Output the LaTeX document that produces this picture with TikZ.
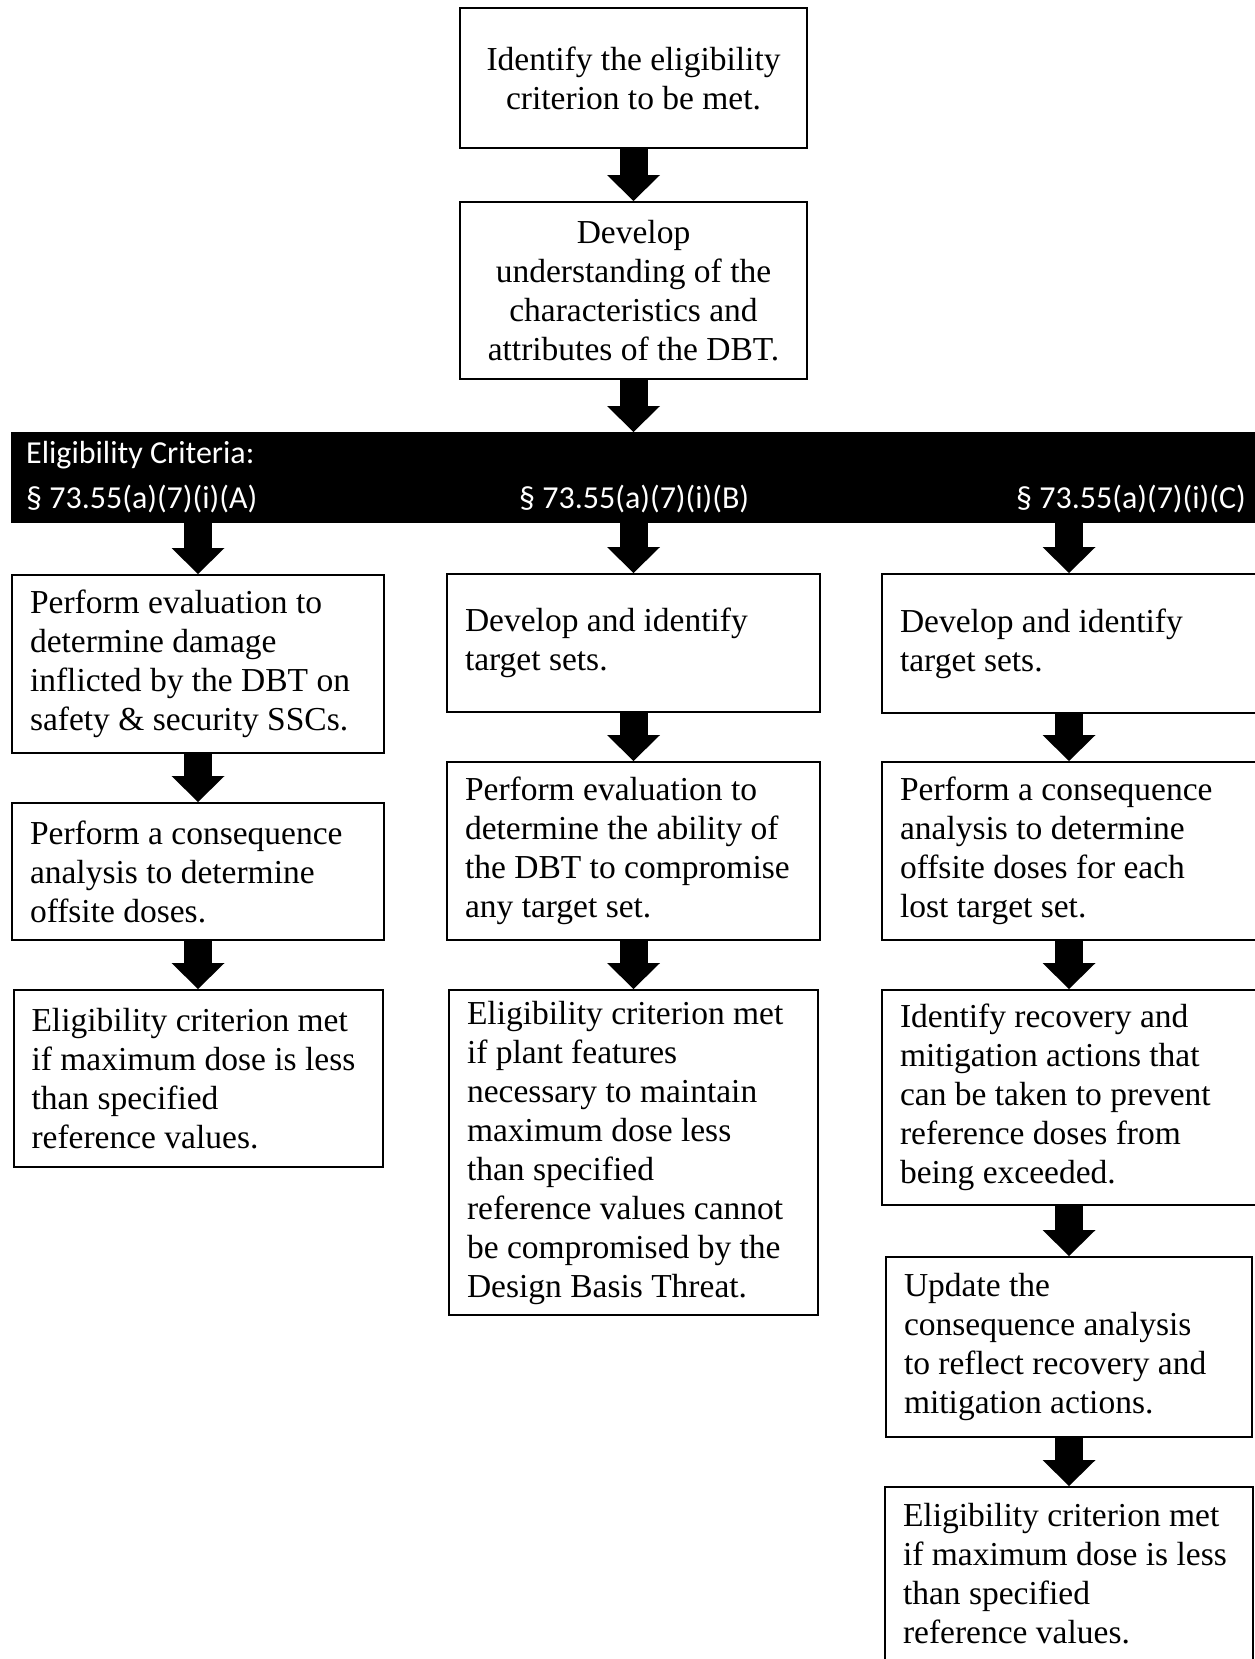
\documentclass[tikz,border=0pt]{standalone}
\usepackage{fontspec}
\setmainfont{Liberation Serif}
\newfontfamily\barfont{Carlito}
\usetikzlibrary{arrows.meta}
\tikzset{
  stepbox/.style={draw, rectangle, line width=2pt, inner xsep=18pt, inner ysep=0pt,
    align=flush left, font=\fontsize{33.5}{39}\selectfont},
  flow/.style={line width=28pt, -{Triangle[width=53pt,length=26pt,line width=0pt]}},
  critlabel/.style={text=white, inner sep=0pt, anchor=base west,
    font=\barfont\fontsize{32}{38}\selectfont}
}
\begin{document}
\begin{tikzpicture}[x=1pt,y=-1pt]
  \useasboundingbox[fill=white] (0,0) rectangle (1254,1659);
  \node[stepbox, align=flush center, text width=311pt, minimum height=140pt] (ident) at (633.5,78)
    {Identify the eligibility\\criterion to be met.};
  \node[stepbox, align=flush center, text width=311pt, minimum height=177pt] (dbt) at (633.5,290.5)
    {Develop\\understanding of the\\characteristics and\\attributes of the DBT.};
  \node[fill=black, inner sep=0pt, minimum width=1249pt, minimum height=91pt, anchor=north west] (crit) at (11,432) {};
  \node[critlabel] (critname) at (26,463) {Eligibility Criteria:};
  \node[critlabel] (critA) at (26,508) {§ 73.55(a)(7)(i)(A)};
  \node[critlabel] (critB) at (519,508) {§ 73.55(a)(7)(i)(B)};
  \node[critlabel] (critC) at (1016,508) {§ 73.55(a)(7)(i)(C)};
  % criterion A
  \node[stepbox, text width=336pt, minimum height=178pt] (evalA) at (198,664)
    {Perform evaluation to\\determine damage\\inflicted by the DBT on\\safety \& security SSCs.};
  \node[stepbox, text width=336pt, minimum height=137pt] (doseA) at (198,871.5)
    {Perform a consequence\\analysis to determine\\offsite doses.};
  \node[stepbox, text width=333pt, minimum height=177pt] (metA) at (198,1078.5)
    {Eligibility criterion met\\if maximum dose is less\\than specified\\reference values.};
  % criterion B
  \node[stepbox, text width=337pt, minimum height=138pt] (targetB) at (633.5,643)
    {Develop and identify\\target sets.};
  \node[stepbox, text width=337pt, minimum height=178pt] (evalB) at (633.5,851)
    {Perform evaluation to\\determine the ability of\\the DBT to compromise\\any target set.};
  \node[stepbox, text width=333pt, minimum height=325pt] (metB) at (633.5,1152.5)
    {Eligibility criterion met\\if plant features\\necessary to maintain\\maximum dose less\\than specified\\reference values cannot\\be compromised by the\\Design Basis Threat.};
  % criterion C
  \node[stepbox, text width=338pt, minimum height=139pt] (targetC) at (1069,643.5)
    {Develop and identify\\target sets.};
  \node[stepbox, text width=338pt, minimum height=178pt] (doseC) at (1069,851)
    {Perform a consequence\\analysis to determine\\offsite doses for each\\lost target set.};
  \node[stepbox, text width=338pt, minimum height=215pt] (actC) at (1069,1097.5)
    {Identify recovery and\\mitigation actions that\\can be taken to prevent\\reference doses from\\being exceeded.};
  \node[stepbox, text width=330pt, minimum height=180pt] (updC) at (1069,1347)
    {Update the\\consequence analysis\\to reflect recovery and\\mitigation actions.};
  \node[stepbox, text width=332pt, minimum height=174pt] (metC) at (1069,1574)
    {Eligibility criterion met\\if maximum dose is less\\than specified\\reference values.};
  \begin{scope}[flow]
    \draw (ident) -- (dbt);
    \draw (dbt.south) -- (dbt.south |- crit.north);
    \draw (crit.south -| evalA) -- (evalA);
    \draw (evalA) -- (doseA);
    \draw (doseA) -- (metA);
    \draw (crit.south -| targetB) -- (targetB);
    \draw (targetB) -- (evalB);
    \draw (evalB) -- (metB);
    \draw (crit.south -| targetC) -- (targetC);
    \draw (targetC) -- (doseC);
    \draw (doseC) -- (actC);
    \draw (actC) -- (updC);
    \draw (updC) -- (metC);
  \end{scope}
\end{tikzpicture}
\end{document}
